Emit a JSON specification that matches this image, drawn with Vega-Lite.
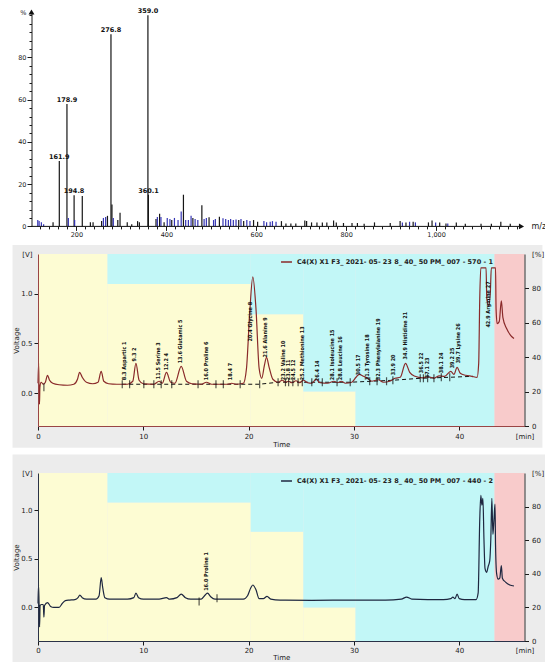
{
  "$schema": "https://vega.github.io/schema/vega-lite/v6.json",
  "background": "white",
  "padding": {"left": 12, "top": 8, "right": 0, "bottom": 0},
  "spacing": 6,
  "config": {
    "view": {"stroke": null},
    "axis": {"labelFont": "DejaVu Sans", "labelFontSize": 7, "titleFont": "DejaVu Sans", "titleFontSize": 7, "titleFontWeight": "normal", "labelColor": "#1a1a1a", "titleColor": "#1a1a1a", "tickColor": "#1a1a1a", "domainColor": "#1a1a1a", "grid": false, "tickSize": 4, "labelPadding": 2, "titlePadding": 2, "labelFlush": false, "labelOverlap": false},
    "title": {"font": "DejaVu Sans"}
  },
  "datasets": {
    "ms": [
      {"mz": 114, "pct": 3, "trace": "B"}, {"mz": 117, "pct": 2.5, "trace": "B"}, {"mz": 122, "pct": 2, "trace": "B"}, {"mz": 127, "pct": 1, "trace": "B"},
      {"mz": 148, "pct": 2, "trace": "A"}, {"mz": 161.9, "pct": 31, "trace": "A", "label": "161.9"}, {"mz": 178.9, "pct": 58, "trace": "A", "label": "178.9"},
      {"mz": 182, "pct": 4, "trace": "B"}, {"mz": 194.8, "pct": 14.7, "trace": "A", "label": "194.8"}, {"mz": 196, "pct": 3, "trace": "B"},
      {"mz": 213, "pct": 14.4, "trace": "A"}, {"mz": 231, "pct": 2, "trace": "A"}, {"mz": 237, "pct": 2, "trace": "A"}, {"mz": 256, "pct": 2.5, "trace": "A"},
      {"mz": 260, "pct": 4, "trace": "B"}, {"mz": 265, "pct": 4.5, "trace": "B"}, {"mz": 269, "pct": 5, "trace": "A"},
      {"mz": 276.8, "pct": 91, "trace": "A", "label": "276.8"}, {"mz": 279, "pct": 10.4, "trace": "A"}, {"mz": 282, "pct": 4, "trace": "B"},
      {"mz": 292, "pct": 3, "trace": "A"}, {"mz": 297, "pct": 6.5, "trace": "A"}, {"mz": 313, "pct": 2, "trace": "A"}, {"mz": 323, "pct": 1, "trace": "A"},
      {"mz": 336, "pct": 2.5, "trace": "A"}, {"mz": 340, "pct": 2, "trace": "A"},
      {"mz": 359.0, "pct": 100, "trace": "A", "label": "359.0"}, {"mz": 360.1, "pct": 15, "trace": "A", "label": "360.1"},
      {"mz": 377, "pct": 3.5, "trace": "A"}, {"mz": 380, "pct": 4.5, "trace": "B"}, {"mz": 385, "pct": 6, "trace": "A"}, {"mz": 388, "pct": 4.5, "trace": "B"},
      {"mz": 395, "pct": 2, "trace": "A"}, {"mz": 402, "pct": 4, "trace": "B"}, {"mz": 408, "pct": 3.5, "trace": "B"}, {"mz": 412, "pct": 3, "trace": "A"},
      {"mz": 418, "pct": 4, "trace": "B"}, {"mz": 426, "pct": 3, "trace": "B"}, {"mz": 433, "pct": 7, "trace": "B"}, {"mz": 438, "pct": 15, "trace": "A"},
      {"mz": 443, "pct": 3, "trace": "B"}, {"mz": 449, "pct": 3, "trace": "B"}, {"mz": 455, "pct": 5, "trace": "B"}, {"mz": 459, "pct": 4, "trace": "A"},
      {"mz": 464, "pct": 3.5, "trace": "B"}, {"mz": 470, "pct": 3, "trace": "B"}, {"mz": 479, "pct": 10, "trace": "A"}, {"mz": 484, "pct": 3.5, "trace": "B"},
      {"mz": 489, "pct": 4, "trace": "B"}, {"mz": 495, "pct": 4.3, "trace": "A"}, {"mz": 505, "pct": 3, "trace": "B"}, {"mz": 509, "pct": 3.5, "trace": "B"},
      {"mz": 518, "pct": 4.6, "trace": "A"}, {"mz": 526, "pct": 3.8, "trace": "B"}, {"mz": 532, "pct": 3.5, "trace": "B"}, {"mz": 538, "pct": 3, "trace": "B"},
      {"mz": 543, "pct": 3.5, "trace": "B"}, {"mz": 549, "pct": 3, "trace": "B"}, {"mz": 555, "pct": 3.3, "trace": "B"}, {"mz": 561, "pct": 3, "trace": "A"},
      {"mz": 566, "pct": 3.5, "trace": "B"}, {"mz": 572, "pct": 2.5, "trace": "A"}, {"mz": 579, "pct": 3, "trace": "B"}, {"mz": 586, "pct": 2.5, "trace": "B"},
      {"mz": 594, "pct": 3, "trace": "A"}, {"mz": 603, "pct": 2.2, "trace": "A"}, {"mz": 617, "pct": 2.5, "trace": "B"}, {"mz": 623, "pct": 2, "trace": "B"},
      {"mz": 631, "pct": 2.2, "trace": "B"}, {"mz": 636, "pct": 2.5, "trace": "B"}, {"mz": 644, "pct": 2.2, "trace": "B"}, {"mz": 656, "pct": 2.5, "trace": "A"},
      {"mz": 666, "pct": 1.4, "trace": "A"}, {"mz": 677, "pct": 1.4, "trace": "A"}, {"mz": 688, "pct": 1.4, "trace": "A"}, {"mz": 708, "pct": 2.8, "trace": "A"},
      {"mz": 712, "pct": 2.5, "trace": "A"}, {"mz": 723, "pct": 1.9, "trace": "A"}, {"mz": 735, "pct": 1.9, "trace": "A"}, {"mz": 747, "pct": 1.9, "trace": "A"},
      {"mz": 757, "pct": 1.9, "trace": "A"}, {"mz": 772, "pct": 2.8, "trace": "A"}, {"mz": 778, "pct": 1.9, "trace": "A"}, {"mz": 794, "pct": 1.6, "trace": "A"},
      {"mz": 813, "pct": 1.6, "trace": "A"}, {"mz": 825, "pct": 1.6, "trace": "A"}, {"mz": 840, "pct": 1.3, "trace": "A"}, {"mz": 863, "pct": 1.9, "trace": "A"},
      {"mz": 898, "pct": 1.6, "trace": "A"}, {"mz": 920, "pct": 2.5, "trace": "A"}, {"mz": 925, "pct": 1.9, "trace": "B"}, {"mz": 933, "pct": 1.9, "trace": "A"},
      {"mz": 941, "pct": 2.2, "trace": "B"}, {"mz": 949, "pct": 2.2, "trace": "A"}, {"mz": 954, "pct": 1.9, "trace": "B"}, {"mz": 983, "pct": 1.9, "trace": "A"},
      {"mz": 991, "pct": 2.8, "trace": "A"}, {"mz": 999, "pct": 1.9, "trace": "B"}, {"mz": 1008, "pct": 1.9, "trace": "A"}, {"mz": 1022, "pct": 1.4, "trace": "A"},
      {"mz": 1026, "pct": 1.4, "trace": "B"}, {"mz": 1045, "pct": 1.9, "trace": "A"}, {"mz": 1065, "pct": 1.3, "trace": "A"}, {"mz": 1100, "pct": 1.3, "trace": "A"},
      {"mz": 1123, "pct": 1.3, "trace": "A"}, {"mz": 1144, "pct": 2.2, "trace": "A"}, {"mz": 1165, "pct": 1.3, "trace": "A"}
    ],
    "grad": [
      {"start": 0, "end": 6.6, "lo": 0, "hi": 100, "phase": "A"},
      {"start": 6.6, "end": 20.2, "lo": 0, "hi": 82.5, "phase": "A"},
      {"start": 20.2, "end": 25.2, "lo": 0, "hi": 65, "phase": "A"},
      {"start": 25.2, "end": 30.15, "lo": 0, "hi": 20, "phase": "A"},
      {"start": 6.6, "end": 20.2, "lo": 82.5, "hi": 100, "phase": "B"},
      {"start": 20.2, "end": 25.2, "lo": 65, "hi": 100, "phase": "B"},
      {"start": 25.2, "end": 30.15, "lo": 20, "hi": 100, "phase": "B"},
      {"start": 30.15, "end": 43.35, "lo": 0, "hi": 100, "phase": "B"},
      {"start": 43.35, "end": 46.2, "lo": 0, "hi": 100, "phase": "C"}
    ],
    "trace570": [
      {"t": 0, "v": 0.10}, {"t": 0.06, "v": 0.30}, {"t": 0.1, "v": 0.02}, {"t": 0.14, "v": -0.11}, {"t": 0.18, "v": 0.06}, {"t": 0.3, "v": 0.11},
      {"t": 0.5, "v": 0.09}, {"t": 0.7, "v": 0.11}, {"t": 0.9, "v": 0.18}, {"t": 1.1, "v": 0.13}, {"t": 1.4, "v": 0.10}, {"t": 2.0, "v": 0.085},
      {"t": 2.8, "v": 0.08}, {"t": 3.4, "v": 0.09}, {"t": 3.75, "v": 0.14}, {"t": 3.95, "v": 0.21}, {"t": 4.2, "v": 0.16}, {"t": 4.6, "v": 0.11},
      {"t": 5.2, "v": 0.095}, {"t": 5.7, "v": 0.11}, {"t": 6.0, "v": 0.22}, {"t": 6.25, "v": 0.12}, {"t": 6.7, "v": 0.095}, {"t": 7.5, "v": 0.09},
      {"t": 8.5, "v": 0.09}, {"t": 9.0, "v": 0.12}, {"t": 9.3, "v": 0.3}, {"t": 9.6, "v": 0.13}, {"t": 10.0, "v": 0.095}, {"t": 11.0, "v": 0.09},
      {"t": 11.5, "v": 0.12}, {"t": 11.8, "v": 0.1}, {"t": 12.2, "v": 0.21}, {"t": 12.6, "v": 0.11}, {"t": 13.0, "v": 0.10}, {"t": 13.6, "v": 0.27},
      {"t": 14.1, "v": 0.12}, {"t": 14.6, "v": 0.095}, {"t": 15.5, "v": 0.09}, {"t": 16.0, "v": 0.11}, {"t": 16.5, "v": 0.09}, {"t": 18.0, "v": 0.09},
      {"t": 18.4, "v": 0.10}, {"t": 18.8, "v": 0.09}, {"t": 19.5, "v": 0.1}, {"t": 19.8, "v": 0.25}, {"t": 20.1, "v": 0.8}, {"t": 20.4, "v": 1.17},
      {"t": 20.7, "v": 0.85}, {"t": 21.0, "v": 0.25}, {"t": 21.25, "v": 0.15}, {"t": 21.5, "v": 0.28}, {"t": 21.7, "v": 0.36}, {"t": 21.95, "v": 0.26},
      {"t": 22.3, "v": 0.14}, {"t": 22.8, "v": 0.11}, {"t": 23.2, "v": 0.13}, {"t": 23.5, "v": 0.11}, {"t": 23.8, "v": 0.12}, {"t": 24.1, "v": 0.105},
      {"t": 24.5, "v": 0.125}, {"t": 24.85, "v": 0.105}, {"t": 25.2, "v": 0.13}, {"t": 25.6, "v": 0.105}, {"t": 26.0, "v": 0.10}, {"t": 26.4, "v": 0.14},
      {"t": 26.8, "v": 0.105}, {"t": 27.5, "v": 0.10}, {"t": 28.1, "v": 0.12}, {"t": 28.45, "v": 0.105}, {"t": 28.8, "v": 0.12}, {"t": 29.2, "v": 0.10},
      {"t": 29.8, "v": 0.11}, {"t": 30.2, "v": 0.16}, {"t": 30.5, "v": 0.19}, {"t": 30.9, "v": 0.17}, {"t": 31.3, "v": 0.15}, {"t": 31.7, "v": 0.12},
      {"t": 32.3, "v": 0.135}, {"t": 32.8, "v": 0.11}, {"t": 33.4, "v": 0.12}, {"t": 33.9, "v": 0.15}, {"t": 34.4, "v": 0.16}, {"t": 34.9, "v": 0.30},
      {"t": 35.3, "v": 0.21}, {"t": 35.8, "v": 0.17}, {"t": 36.5, "v": 0.155}, {"t": 37.1, "v": 0.165}, {"t": 37.6, "v": 0.15}, {"t": 38.1, "v": 0.175},
      {"t": 38.6, "v": 0.17}, {"t": 39.2, "v": 0.22}, {"t": 39.5, "v": 0.19}, {"t": 39.8, "v": 0.26}, {"t": 40.1, "v": 0.2}, {"t": 40.6, "v": 0.18},
      {"t": 41.2, "v": 0.17}, {"t": 41.7, "v": 0.16}, {"t": 41.85, "v": 0.3}, {"t": 41.95, "v": 0.95}, {"t": 42.05, "v": 1.26}, {"t": 42.55, "v": 1.26},
      {"t": 42.62, "v": 0.95}, {"t": 42.8, "v": 0.88}, {"t": 42.95, "v": 1.0}, {"t": 43.05, "v": 1.26}, {"t": 43.45, "v": 1.26}, {"t": 43.5, "v": 0.85},
      {"t": 43.6, "v": 0.7}, {"t": 43.8, "v": 0.72}, {"t": 44.0, "v": 0.93}, {"t": 44.15, "v": 0.76}, {"t": 44.5, "v": 0.65}, {"t": 44.9, "v": 0.58},
      {"t": 45.2, "v": 0.55}
    ],
    "marks570": [
      {"t": 0.56, "v": 0.06}, {"t": 8.0, "v": 0.09}, {"t": 8.7, "v": 0.09}, {"t": 10.05, "v": 0.09}, {"t": 11.0, "v": 0.09}, {"t": 11.7, "v": 0.09},
      {"t": 12.7, "v": 0.09}, {"t": 15.2, "v": 0.09}, {"t": 16.9, "v": 0.09}, {"t": 17.6, "v": 0.09}, {"t": 19.2, "v": 0.09}, {"t": 21.05, "v": 0.09},
      {"t": 22.8, "v": 0.11}, {"t": 23.5, "v": 0.11}, {"t": 23.8, "v": 0.11}, {"t": 24.2, "v": 0.11}, {"t": 24.7, "v": 0.11}, {"t": 25.1, "v": 0.11},
      {"t": 26.0, "v": 0.11}, {"t": 27.0, "v": 0.11}, {"t": 28.4, "v": 0.11}, {"t": 29.65, "v": 0.11}, {"t": 31.5, "v": 0.12}, {"t": 32.2, "v": 0.12},
      {"t": 33.1, "v": 0.12}, {"t": 33.7, "v": 0.13}, {"t": 36.3, "v": 0.15}, {"t": 36.6, "v": 0.15}, {"t": 37.0, "v": 0.15}, {"t": 37.6, "v": 0.15},
      {"t": 38.3, "v": 0.16}, {"t": 39.1, "v": 0.16}
    ],
    "base570": [
      {"t": 8.0, "v": 0.09}, {"t": 21.0, "v": 0.09}, {"t": 22.8, "v": 0.11}, {"t": 29.6, "v": 0.11}, {"t": 33.7, "v": 0.13}, {"t": 36.3, "v": 0.15},
      {"t": 39.1, "v": 0.16}, {"t": 41.3, "v": 0.17}
    ],
    "labels570": [
      {"t": 8.2, "v": 0.13, "label": "8.3 Aspartic  1"},
      {"t": 9.1, "v": 0.32, "label": "9.3  2"},
      {"t": 11.35, "v": 0.14, "label": "11.5 Serine  3"},
      {"t": 12.15, "v": 0.23, "label": "12.2  4"},
      {"t": 13.5, "v": 0.30, "label": "13.6 Glutamic  5"},
      {"t": 16.0, "v": 0.13, "label": "16.0 Proline  6"},
      {"t": 18.25, "v": 0.13, "label": "18.4  7"},
      {"t": 20.15, "v": 0.52, "label": "20.4 Glycine  8"},
      {"t": 21.55, "v": 0.36, "label": "21.6 Alanine  9"},
      {"t": 23.3, "v": 0.13, "label": "23.2 Valine  10"},
      {"t": 23.75, "v": 0.13, "label": "23.8  11"},
      {"t": 24.2, "v": 0.13, "label": "24.5  12"},
      {"t": 25.1, "v": 0.13, "label": "25.2 Methionine  13"},
      {"t": 26.45, "v": 0.12, "label": "26.4  14"},
      {"t": 27.95, "v": 0.13, "label": "28.1 Isoleucine  15"},
      {"t": 28.7, "v": 0.13, "label": "28.8 Leucine  16"},
      {"t": 30.4, "v": 0.18, "label": "30.5  17"},
      {"t": 31.2, "v": 0.13, "label": "31.3 Tyrosine  18"},
      {"t": 32.3, "v": 0.13, "label": "32.3 Phenylalanine  19"},
      {"t": 33.7, "v": 0.18, "label": "33.9  20"},
      {"t": 34.85, "v": 0.34, "label": "34.9 Histidine  21"},
      {"t": 36.4, "v": 0.2, "label": "36.5  22"},
      {"t": 36.95, "v": 0.15, "label": "37.1  23"},
      {"t": 38.25, "v": 0.2, "label": "38.1  24"},
      {"t": 39.3, "v": 0.25, "label": "39.2  25"},
      {"t": 39.9, "v": 0.3, "label": "39.7 Lysine  26"},
      {"t": 42.75, "v": 0.66, "label": "42.9 Arginine  27"}
    ],
    "trace440": [
      {"t": 0, "v": 0.04}, {"t": 0.05, "v": 0.23}, {"t": 0.1, "v": 0.05}, {"t": 0.15, "v": -0.2}, {"t": 0.2, "v": 0.02}, {"t": 0.35, "v": 0.03},
      {"t": 0.5, "v": 0.03}, {"t": 0.56, "v": -0.1}, {"t": 0.62, "v": 0.02}, {"t": 0.9, "v": 0.05}, {"t": 1.2, "v": 0.01}, {"t": 1.5, "v": 0.0},
      {"t": 2.0, "v": 0.0}, {"t": 2.3, "v": 0.04}, {"t": 2.6, "v": 0.07}, {"t": 3.0, "v": 0.075}, {"t": 3.5, "v": 0.08}, {"t": 3.8, "v": 0.1},
      {"t": 3.97, "v": 0.126}, {"t": 4.2, "v": 0.1}, {"t": 4.6, "v": 0.085}, {"t": 5.5, "v": 0.085}, {"t": 5.8, "v": 0.12}, {"t": 6.0, "v": 0.306},
      {"t": 6.15, "v": 0.2}, {"t": 6.35, "v": 0.1}, {"t": 6.8, "v": 0.085}, {"t": 8.5, "v": 0.085}, {"t": 9.1, "v": 0.1}, {"t": 9.3, "v": 0.146},
      {"t": 9.55, "v": 0.1}, {"t": 10.0, "v": 0.085}, {"t": 11.5, "v": 0.085}, {"t": 12.2, "v": 0.1}, {"t": 12.5, "v": 0.085}, {"t": 13.2, "v": 0.1},
      {"t": 13.6, "v": 0.136}, {"t": 14.0, "v": 0.1}, {"t": 14.5, "v": 0.085}, {"t": 15.5, "v": 0.085}, {"t": 15.9, "v": 0.13}, {"t": 16.1, "v": 0.146},
      {"t": 16.4, "v": 0.11}, {"t": 16.8, "v": 0.085}, {"t": 19.5, "v": 0.085}, {"t": 19.9, "v": 0.12}, {"t": 20.2, "v": 0.2}, {"t": 20.4, "v": 0.23},
      {"t": 20.7, "v": 0.18}, {"t": 21.0, "v": 0.09}, {"t": 21.4, "v": 0.09}, {"t": 21.75, "v": 0.113}, {"t": 22.1, "v": 0.085}, {"t": 23, "v": 0.075},
      {"t": 26, "v": 0.073}, {"t": 30, "v": 0.075}, {"t": 33, "v": 0.075}, {"t": 34.5, "v": 0.085}, {"t": 35.0, "v": 0.106}, {"t": 35.5, "v": 0.085},
      {"t": 37, "v": 0.08}, {"t": 38.5, "v": 0.08}, {"t": 39.2, "v": 0.09}, {"t": 39.4, "v": 0.106}, {"t": 39.6, "v": 0.09}, {"t": 39.8, "v": 0.136},
      {"t": 40.0, "v": 0.09}, {"t": 40.5, "v": 0.08}, {"t": 41.6, "v": 0.08}, {"t": 41.8, "v": 0.15}, {"t": 41.95, "v": 0.9}, {"t": 42.05, "v": 1.15},
      {"t": 42.15, "v": 1.05}, {"t": 42.25, "v": 1.12}, {"t": 42.35, "v": 0.7}, {"t": 42.45, "v": 0.4}, {"t": 42.6, "v": 0.36}, {"t": 42.75, "v": 0.42},
      {"t": 42.9, "v": 0.48}, {"t": 43.0, "v": 0.7}, {"t": 43.1, "v": 1.12}, {"t": 43.2, "v": 0.75}, {"t": 43.3, "v": 0.9}, {"t": 43.4, "v": 1.06},
      {"t": 43.45, "v": 0.64}, {"t": 43.55, "v": 0.35}, {"t": 43.7, "v": 0.29}, {"t": 43.85, "v": 0.3}, {"t": 44.0, "v": 0.43}, {"t": 44.1, "v": 0.3},
      {"t": 44.4, "v": 0.26}, {"t": 44.8, "v": 0.23}, {"t": 45.2, "v": 0.22}
    ],
    "marks440": [{"t": 15.3, "v": 0.06}, {"t": 17.0, "v": 0.095}],
    "labels440": [{"t": 15.95, "v": 0.17, "label": "16.0 Proline  1"}]
  },
  "vconcat": [
    {
      "width": 483.5,
      "height": 214.4,
      "layer": [
        {
          "data": {"name": "ms"},
          "mark": {"type": "rule", "strokeWidth": 1.2},
          "encoding": {
            "x": {"field": "mz", "type": "quantitative", "scale": {"domain": [114.5, 1190], "nice": false, "zero": false},
              "axis": {"orient": "bottom", "domain": false, "values": [200, 400, 600, 800, 1000], "labelExpr": "format(datum.value, ',d')",
                "tickSize": 4, "labelPadding": 1.5, "labelFontSize": 6.5,
                "title": "m/z", "titleX": 493, "titleY": 0, "titleAlign": "left", "titleBaseline": "middle", "titleAngle": 0, "titleFontSize": 8}},
            "y": {"field": "pct", "type": "quantitative", "scale": {"domain": [0, 101.5], "nice": false},
              "axis": {"orient": "left", "offset": 6.5, "values": [0, 20, 40, 60, 80, 101.5],
                "labelExpr": "datum.value > 101 ? '%' : datum.value",
                "tickOpacity": {"condition": {"test": "datum.value > 101", "value": 0}, "value": 1},
                "tickSize": 4.5, "labelPadding": 1, "labelFontSize": 6.5, "title": null}},
            "y2": {"datum": 0},
            "color": {"field": "trace", "type": "nominal", "scale": {"domain": ["A", "B"], "range": ["#161616", "#3434b4"]}, "legend": null}
          }
        },
        {
          "data": {"values": [{}]},
          "mark": {"type": "rule", "color": "#111", "strokeWidth": 1},
          "encoding": {
            "x": {"datum": 100, "type": "quantitative",
              "axis": {"orient": "bottom", "domain": false, "labels": false, "title": null, "tickSize": 2.5,
                "values": [120,140,160,180,220,240,260,280,300,320,340,360,380,420,440,460,480,500,520,540,560,580,620,640,660,680,700,720,740,760,780,820,840,860,880,900,920,940,960,980,1020,1040,1060,1080,1100,1120,1140,1160,1180]}},
            "x2": {"datum": 1190},
            "y": {"datum": 0, "type": "quantitative",
              "axis": {"orient": "left", "offset": 6.5, "domain": false, "labels": false, "title": null, "tickSize": 2.5,
                "values": [4,8,12,16,24,28,32,36,44,48,52,56,64,68,72,76,84,88,92,96,100]}}
          }
        },
        {
          "data": {"name": "ms"},
          "transform": [{"filter": "datum.label"}],
          "mark": {"type": "text", "dy": -4, "fontSize": 6.5, "fontWeight": "bold", "font": "DejaVu Sans", "color": "#111"},
          "encoding": {"x": {"field": "mz", "type": "quantitative", "axis": null}, "y": {"field": "pct", "type": "quantitative", "axis": null}, "text": {"field": "label"}}
        },
        {
          "data": {"values": [{}]},
          "mark": {"type": "point", "shape": "triangle-up", "filled": true, "size": 35, "color": "#111", "opacity": 1},
          "encoding": {"x": {"datum": 100, "axis": null}, "y": {"datum": 101.5, "axis": null}}
        },
        {
          "data": {"values": [{}]},
          "mark": {"type": "point", "shape": "triangle-right", "filled": true, "size": 35, "color": "#111", "opacity": 1},
          "encoding": {"x": {"datum": 1190, "axis": null}, "y": {"datum": 0, "axis": null}}
        }
      ],
      "resolve": {"axis": {"x": "independent", "y": "independent"}}
    },
    {
      "width": 486.5,
      "height": 172,
      "layer": [
        {
          "data": {"values": [{}]},
          "mark": {"type": "rect", "color": "#ececec"},
          "encoding": {
            "x": {"datum": -2.42, "type": "quantitative", "scale": {"domain": [0, 46.2], "nice": false, "zero": false},
              "axis": {"zindex": 1, "values": [0, 10, 20, 30, 40, 46.2], "labelExpr": "datum.value > 45 ? '[min]' : datum.value",
                "tickOpacity": {"condition": {"test": "datum.value > 45", "value": 0}, "value": 1},
                "title": "Time", "titlePadding": 1, "domainColor": "#9a4545"}},
            "x2": {"datum": 47.9},
            "y": {"datum": 1.49, "type": "quantitative", "scale": {"domain": [-0.33, 1.4], "nice": false, "zero": false}, "axis": null},
            "y2": {"datum": -0.55}
          }
        },
        {
          "data": {"name": "grad"},
          "mark": {"type": "rect"},
          "encoding": {
            "x": {"field": "start", "type": "quantitative"},
            "x2": {"field": "end"},
            "y": {"field": "lo", "type": "quantitative", "scale": {"domain": [0, 100], "nice": false},
              "axis": {"zindex": 1, "orient": "right", "values": [0, 20, 40, 60, 80, 100], "labelExpr": "datum.value == 100 ? '[%]' : datum.value",
                "tickOpacity": {"condition": {"test": "datum.value == 100", "value": 0}, "value": 1}, "labelPadding": 3, "title": null, "domainColor": "#333"}},
            "y2": {"field": "hi"},
            "color": {"field": "phase", "type": "nominal", "scale": {"domain": ["A", "B", "C"], "range": ["#fdfcd3", "#c2f7f7", "#f8cbcb"]}, "legend": null}
          }
        },
        {
          "data": {"name": "base570"},
          "mark": {"type": "line", "color": "#111", "strokeWidth": 1, "strokeDash": [4, 3]},
          "encoding": {
            "x": {"field": "t", "type": "quantitative"},
            "y": {"field": "v", "type": "quantitative", "scale": {"domain": [-0.33, 1.4], "nice": false, "zero": false}, "axis": null}
          }
        },
        {
          "data": {"name": "trace570"},
          "mark": {"type": "line", "strokeWidth": 1.2, "interpolate": "monotone"},
          "encoding": {
            "x": {"field": "t", "type": "quantitative"},
            "y": {"field": "v", "type": "quantitative", "scale": {"domain": [-0.33, 1.4], "nice": false, "zero": false},
              "axis": {"zindex": 1, "orient": "left", "values": [0, 0.5, 1.0, 1.4], "labelExpr": "datum.value > 1.3 ? '[V]' : format(datum.value, '.1f')",
                "tickOpacity": {"condition": {"test": "datum.value > 1.3", "value": 0}, "value": 1},
                "title": "Voltage", "titlePadding": 1, "domainColor": "#9a4545"}},
            "color": {"datum": "C4(X)  X1  F3_ 2021- 05- 23  8_ 40_ 50  PM_ 007  -  570  -  1", "type": "nominal",
              "scale": {"range": ["#8a2a2a"]},
              "legend": {"orient": "none", "legendX": 242, "legendY": 1.5, "symbolType": "stroke", "symbolSize": 120, "symbolStrokeWidth": 1.5,
                "labelFont": "DejaVu Sans", "labelFontSize": 6.5, "labelFontWeight": "bold", "labelLimit": 400, "labelColor": "#222", "title": null, "padding": 0}}
          }
        },
        {
          "data": {"name": "marks570"},
          "mark": {"type": "tick", "orient": "vertical", "size": 8, "thickness": 1.2, "color": "#111"},
          "encoding": {
            "x": {"field": "t", "type": "quantitative"},
            "y": {"field": "v", "type": "quantitative", "scale": {"domain": [-0.33, 1.4], "nice": false, "zero": false}, "axis": null}
          }
        },
        {
          "data": {"name": "labels570"},
          "mark": {"type": "text", "angle": 270, "align": "left", "baseline": "middle", "font": "DejaVu Sans Condensed", "fontSize": 5.5, "fontWeight": "bold", "color": "#111"},
          "encoding": {
            "x": {"field": "t", "type": "quantitative"},
            "y": {"field": "v", "type": "quantitative", "scale": {"domain": [-0.33, 1.4], "nice": false, "zero": false}, "axis": null},
            "text": {"field": "label"}
          }
        }
      ],
      "resolve": {"scale": {"y": "independent", "color": "independent"}}
    },
    {
      "width": 486.5,
      "height": 168,
      "layer": [
        {
          "data": {"values": [{}]},
          "mark": {"type": "rect", "color": "#ececec"},
          "encoding": {
            "x": {"datum": -2.42, "type": "quantitative", "scale": {"domain": [0, 46.2], "nice": false, "zero": false},
              "axis": {"zindex": 1, "values": [0, 10, 20, 30, 40, 46.2], "labelExpr": "datum.value > 45 ? '[min]' : datum.value",
                "tickOpacity": {"condition": {"test": "datum.value > 45", "value": 0}, "value": 1},
                "title": "Time", "titlePadding": 0, "labelPadding": 1, "domainColor": "#2a3248"}},
            "x2": {"datum": 48.3},
            "y": {"datum": 1.57, "type": "quantitative", "scale": {"domain": [-0.345, 1.38], "nice": false, "zero": false}, "axis": null},
            "y2": {"datum": -0.62}
          }
        },
        {
          "data": {"name": "grad"},
          "mark": {"type": "rect"},
          "encoding": {
            "x": {"field": "start", "type": "quantitative"},
            "x2": {"field": "end"},
            "y": {"field": "lo", "type": "quantitative", "scale": {"domain": [0, 100], "nice": false},
              "axis": {"zindex": 1, "orient": "right", "values": [0, 20, 40, 60, 80, 100], "labelExpr": "datum.value == 100 ? '[%]' : datum.value",
                "tickOpacity": {"condition": {"test": "datum.value == 100", "value": 0}, "value": 1}, "labelPadding": 3, "title": null, "domainColor": "#333"}},
            "y2": {"field": "hi"},
            "color": {"field": "phase", "type": "nominal", "scale": {"domain": ["A", "B", "C"], "range": ["#fdfcd3", "#c2f7f7", "#f8cbcb"]}, "legend": null}
          }
        },
        {
          "data": {"name": "trace440"},
          "mark": {"type": "line", "strokeWidth": 1.2, "interpolate": "monotone"},
          "encoding": {
            "x": {"field": "t", "type": "quantitative"},
            "y": {"field": "v", "type": "quantitative", "scale": {"domain": [-0.345, 1.38], "nice": false, "zero": false},
              "axis": {"zindex": 1, "orient": "left", "values": [0, 0.5, 1.0, 1.38], "labelExpr": "datum.value > 1.3 ? '[V]' : format(datum.value, '.1f')",
                "tickOpacity": {"condition": {"test": "datum.value > 1.3", "value": 0}, "value": 1},
                "title": "Voltage", "titlePadding": 1, "domainColor": "#2a3248"}},
            "color": {"datum": "C4(X)  X1  F3_ 2021- 05- 23  8_ 40_ 50  PM_ 007  -  440  -  2", "type": "nominal",
              "scale": {"range": ["#1e2740"]},
              "legend": {"orient": "none", "legendX": 242, "legendY": 1.5, "symbolType": "stroke", "symbolSize": 120, "symbolStrokeWidth": 1.5,
                "labelFont": "DejaVu Sans", "labelFontSize": 6.5, "labelFontWeight": "bold", "labelLimit": 400, "labelColor": "#222", "title": null, "padding": 0}}
          }
        },
        {
          "data": {"name": "marks440"},
          "mark": {"type": "tick", "orient": "vertical", "size": 8, "thickness": 1.2, "color": "#111"},
          "encoding": {
            "x": {"field": "t", "type": "quantitative"},
            "y": {"field": "v", "type": "quantitative", "scale": {"domain": [-0.345, 1.38], "nice": false, "zero": false}, "axis": null}
          }
        },
        {
          "data": {"name": "labels440"},
          "mark": {"type": "text", "angle": 270, "align": "left", "baseline": "middle", "font": "DejaVu Sans Condensed", "fontSize": 5.5, "fontWeight": "bold", "color": "#111"},
          "encoding": {
            "x": {"field": "t", "type": "quantitative"},
            "y": {"field": "v", "type": "quantitative", "scale": {"domain": [-0.345, 1.38], "nice": false, "zero": false}, "axis": null},
            "text": {"field": "label"}
          }
        }
      ],
      "resolve": {"scale": {"y": "independent", "color": "independent"}}
    }
  ]
}
